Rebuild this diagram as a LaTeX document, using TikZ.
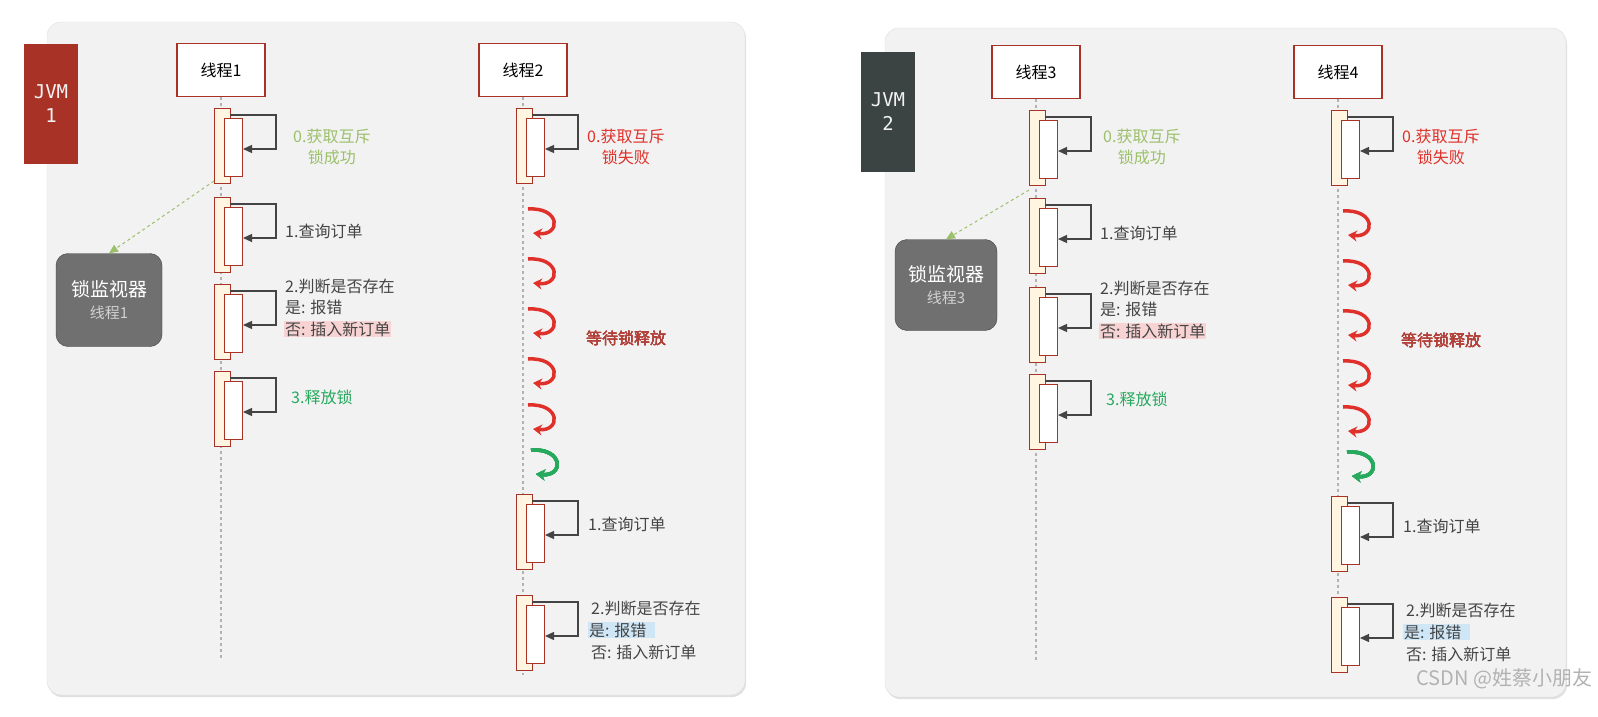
\documentclass[tikz,border=0pt]{standalone}
\usepackage{fontspec}
\setmainfont{Noto Sans CJK SC}
\newfontfamily\monofont{DejaVu Sans Mono}
\usetikzlibrary{positioning,arrows.meta,shadows}
\definecolor{panelbg}{HTML}{F2F2F2}
\definecolor{barline}{HTML}{A93226}
\definecolor{barfill}{HTML}{FFF5E1}
\definecolor{okgreen}{HTML}{9BC06B}
\definecolor{failred}{HTML}{E0302A}
\definecolor{relgreen}{HTML}{27A95E}
\definecolor{txtgray}{HTML}{444444}
\definecolor{waitred}{HTML}{B2413A}
\definecolor{hlpink}{HTML}{F8D3D3}
\definecolor{hlblue}{HTML}{CFE6F7}
\definecolor{jvmdark}{HTML}{3C4343}
\definecolor{mongray}{HTML}{707070}

\tikzset{
  panel/.style={draw=gray!25,fill=panelbg,rounded corners=14pt,drop shadow={opacity=0.25,shadow xshift=1pt,shadow yshift=-2pt}},
  thread/.style={draw=barline,fill=white,line width=1.2pt,minimum width=88pt,minimum height=53pt,font=\fontsize{16}{18}\selectfont},
  outerbar/.style={draw=barline,fill=barfill,line width=1pt,minimum width=16pt,minimum height=75pt,inner sep=0pt,anchor=north west},
  innerbar/.style={draw=barline,fill=white,line width=1pt,minimum width=18pt,minimum height=58pt,inner sep=0pt,anchor=north west},
  selfarr/.style={draw=txtgray,line width=1.3pt,-{Triangle[length=9pt,width=8pt]}},
  life/.style={draw=gray!60,dashed,line width=1.2pt},
  lbl/.style={font=\fontsize{16}{21}\selectfont,text=txtgray,align=left,anchor=west,inner sep=1pt},
  wait/.style={line width=3.5pt,-{Stealth[length=9pt,width=11pt]}},
  jvm/.style={minimum width=54pt,minimum height=120pt,text=white!90!gray,font=\monofont\fontsize{19}{24}\selectfont,align=center},
  monitor/.style={rounded corners=12pt,fill=mongray,draw=gray!50!black,minimum width=106pt,minimum height=93pt,align=center,text=white,font=\fontsize{19}{24}\selectfont},
  lockarr/.style={draw=okgreen,dashed,line width=1pt,-{Triangle[length=9pt,width=8pt]}}
}
\newcommand\actbar[3]{%
  \node[outerbar] (#1) at (#2-7,#3) {};
  \node[innerbar] (#1i) at (#2+3,#3+10) {};
  \draw[selfarr] (#2+9,#3+7) -- (#2+55,#3+7) -- (#2+55,#3+41) -- (#1i.east |- 0,#3+41);
}
\newcommand\waitarr[3]{%
  \draw[wait,#1] (#2-5,#3-13) .. controls (#2+28,#3-15) and (#2+28,#3+14) .. (#2,#3+11);
}

\begin{document}
\begin{tikzpicture}[x=1pt,y=-1pt]
  % panels
  \draw[panel] (47,22) rectangle (745,695);
  \draw[panel] (885,28) rectangle (1566,697);
  \node[jvm,fill=barline] (jvm1) at (51,104) {JVM\\1};
  \node[jvm,fill=jvmdark] (jvm2) at (888,112) {JVM\\2};

  % threads
  \node[thread] (t1) at (221,70) {线程1};
  \node[thread] (t2) at (523,70) {线程2};
  \node[thread] (t3) at (1036,72) {线程3};
  \node[thread] (t4) at (1338,72) {线程4};
  \coordinate (e1) at (221,660);
  \coordinate (e2) at (523,675);
  \coordinate (e3) at (1036,660);
  \coordinate (e4) at (1338,675);
  \foreach \t in {1,...,4} \draw[life] (t\t) -- (e\t);

  % JVM 1
  \actbar{a0}{221}{108}
  \actbar{a1}{221}{197}
  \actbar{a2}{221}{284}
  \actbar{a3}{221}{371}
  \node[lbl,text=okgreen,align=center] at (292,147) {0.获取互斥\\锁成功};
  \node[lbl] at (284,231) {1.查询订单};
  \node[lbl] at (284,286) {2.判断是否存在};
  \node[lbl] at (284,307) {是: 报错};
  \node[lbl,fill=hlpink] at (284,329) {否: 插入新订单};
  \node[lbl,text=relgreen] at (290,397) {3.释放锁};

  \actbar{b0}{523}{108}
  \node[lbl,text=failred,align=center] at (586,147) {0.获取互斥\\锁失败};
  \foreach \y in {222,272,322,372,418} \waitarr{failred}{533}{\y}
  \waitarr{relgreen}{536}{463}
  \node[lbl,text=waitred] at (585,338) {等待锁释放};
  \actbar{b1}{523}{494}
  \actbar{b2}{523}{595}
  \node[lbl] at (587,524) {1.查询订单};
  \node[lbl] at (590,608) {2.判断是否存在};
  \node[lbl,fill=hlblue] at (588,630) {是: 报错\ \ };
  \node[lbl] at (590,652) {否: 插入新订单};

  \node[monitor] (m1) at (109,300) {锁监视器\\[-2pt]{\fontsize{15}{18}\selectfont\color{gray!35}线程1}};
  \draw[lockarr] (a0.west) ++(0,35) coordinate (s1) -- (m1.north);

  % JVM 2
  \actbar{c0}{1036}{110}
  \actbar{c1}{1036}{198}
  \actbar{c2}{1036}{287}
  \actbar{c3}{1036}{374}
  \node[lbl,text=okgreen,align=center] at (1102,147) {0.获取互斥\\锁成功};
  \node[lbl] at (1099,233) {1.查询订单};
  \node[lbl] at (1099,288) {2.判断是否存在};
  \node[lbl] at (1099,309) {是: 报错};
  \node[lbl,fill=hlpink] at (1099,331) {否: 插入新订单};
  \node[lbl,text=relgreen] at (1105,399) {3.释放锁};

  \actbar{d0}{1338}{110}
  \node[lbl,text=failred,align=center] at (1401,147) {0.获取互斥\\锁失败};
  \foreach \y in {224,274,324,374,420} \waitarr{failred}{1348}{\y}
  \waitarr{relgreen}{1352}{465}
  \node[lbl,text=waitred] at (1400,340) {等待锁释放};
  \actbar{d1}{1338}{496}
  \actbar{d2}{1338}{597}
  \node[lbl] at (1402,526) {1.查询订单};
  \node[lbl] at (1405,610) {2.判断是否存在};
  \node[lbl,fill=hlblue] at (1403,632) {是: 报错\ \ };
  \node[lbl] at (1405,654) {否: 插入新订单};

  \node[monitor,minimum width=102pt,minimum height=91pt] (m2) at (946,285) {锁监视器\\[-2pt]{\fontsize{15}{18}\selectfont\color{gray!35}线程3}};
  \draw[lockarr] (c0.west) ++(0,42) -- (m2.north);

  \node[font=\fontsize{20}{24}\selectfont,text=gray!60,anchor=east] (wm) at (1596,679) {CSDN @姓蔡小朋友};

  \pgfresetboundingbox
  \useasboundingbox (0,0) rectangle (1598,717);
\end{tikzpicture}
\end{document}
